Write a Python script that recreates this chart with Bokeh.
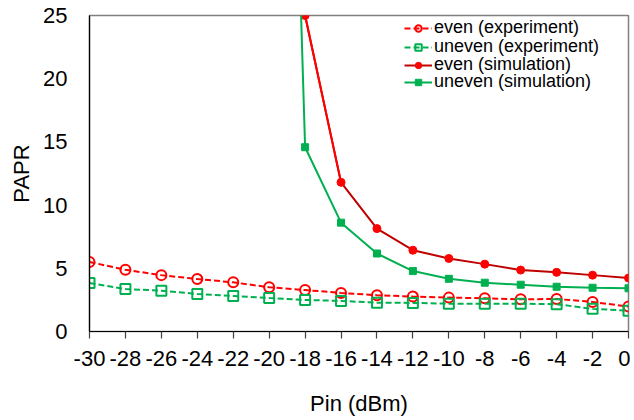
from bokeh.plotting import figure
from bokeh.models import Range1d, FixedTicker, Legend, LegendItem
from bokeh.embed import file_html
from bokeh.resources import INLINE

# Data
pin = [-30, -28, -26, -24, -22, -20, -18, -16, -14, -12, -10, -8, -6, -4, -2, 0]
even_exp = [5.5, 4.88, 4.46, 4.15, 3.89, 3.5, 3.28, 3.05, 2.87, 2.76, 2.68, 2.63, 2.55, 2.57, 2.34, 1.97]
uneven_exp = [3.83, 3.36, 3.23, 2.97, 2.81, 2.65, 2.5, 2.42, 2.28, 2.26, 2.2, 2.2, 2.2, 2.16, 1.79, 1.65]
pin_sim_even = [-18, -16, -14, -12, -10, -8, -6, -4, -2, 0]
even_sim = [25.0, 11.8, 8.14, 6.43, 5.78, 5.33, 4.86, 4.68, 4.46, 4.23]
pin_sim_uneven = [-20, -18, -16, -14, -12, -10, -8, -6, -4, -2, 0]
uneven_sim = [108.0, 14.58, 8.61, 6.17, 4.78, 4.17, 3.86, 3.7, 3.54, 3.46, 3.42]
x_ticks = list(range(-30, 1, 2))
x_tick_labels = [str(t) for t in x_ticks]
y_ticks = [0, 5, 10, 15, 20, 25]
legend_labels = ["even (experiment)", "uneven (experiment)", "even (simulation)", "uneven (simulation)"]

FONT = "Liberation Sans"
RED = "#FF0000"
DARKRED = "#C00000"
GREEN = "#00B050"

p = figure(width=630, height=418, output_backend="svg", toolbar_location=None,
           x_range=Range1d(-30, 0), y_range=Range1d(0, 25),
           min_border_left=89, min_border_right=2, min_border_top=15, min_border_bottom=85)
p.background_fill_color = "white"
p.border_fill_color = "white"
p.outline_line_color = "#808080"
p.outline_line_width = 1.5
p.grid.visible = False

p.xaxis.ticker = FixedTicker(ticks=x_ticks)
p.xaxis.major_label_overrides = dict(zip(x_ticks, x_tick_labels))
p.yaxis.ticker = FixedTicker(ticks=y_ticks)
p.xaxis.minor_tick_line_color = None
p.yaxis.minor_tick_line_color = None
p.xaxis.major_tick_out = 7
p.xaxis.major_tick_in = 0
p.xaxis.major_tick_line_color = "#404040"
p.xaxis.major_tick_line_width = 1.2
p.yaxis.major_tick_out = 0
p.yaxis.major_tick_in = 0
p.xaxis.axis_line_color = "black"
p.yaxis.axis_line_color = "black"
p.xaxis.axis_line_width = 1.2
p.yaxis.axis_line_width = 1.2
for ax in (p.xaxis, p.yaxis):
    ax.major_label_text_font = FONT
    ax.major_label_text_font_size = "22px"
    ax.major_label_text_color = "black"
    ax.axis_label_text_font = FONT
    ax.axis_label_text_font_size = "22px"
    ax.axis_label_text_font_style = "normal"
    ax.axis_label_text_color = "black"
p.xaxis.major_label_standoff = 12
p.yaxis.major_label_standoff = 22
p.xaxis.axis_label = "Pin (dBm)"
p.yaxis.axis_label = "PAPR"
p.xaxis.axis_label_standoff = 22
p.yaxis.axis_label_standoff = 6

# experiment series
l1 = p.line(pin, even_exp, line_color=RED, line_width=2, line_dash="6 3")
m1 = p.scatter(pin, even_exp, marker="circle", size=10, fill_color=None, line_color=RED, line_width=2)
l2 = p.line(pin, uneven_exp, line_color=GREEN, line_width=2, line_dash="6 3")
m2 = p.scatter(pin, uneven_exp, marker="square", size=10, fill_color=None, line_color=GREEN, line_width=2)

# simulation series
l3 = p.line(pin_sim_even, even_sim, line_color=DARKRED, line_width=2)
l3b = p.line(pin_sim_even[:2], even_sim[:2], line_color=RED, line_width=2)
m3 = p.scatter(pin_sim_even, even_sim, marker="circle", size=8, fill_color=RED, line_color=RED)
l4 = p.line(pin_sim_uneven, uneven_sim, line_color=GREEN, line_width=2)
m4 = p.scatter(pin_sim_uneven, uneven_sim, marker="square", size=7, fill_color=GREEN, line_color=GREEN)

renderer_sets = [[l1, m1], [l2, m2], [l3, m3], [l4, m4]]
legend_y = [293, 274, 256, 239]  # screen px from frame bottom
for label, rs, ly in zip(legend_labels, renderer_sets, legend_y):
    lg = Legend(items=[LegendItem(label=label, renderers=rs)], location=(315, ly))
    lg.border_line_color = None
    lg.background_fill_alpha = 0
    lg.label_text_font = FONT
    lg.label_text_font_size = "18px"
    lg.label_text_color = "black"
    lg.glyph_width = 28
    lg.glyph_height = 16
    lg.label_height = 16
    lg.spacing = 0
    lg.padding = 0
    lg.margin = 0
    lg.label_standoff = 2
    p.add_layout(lg)

open("out.html", "w").write(file_html(p, INLINE))
